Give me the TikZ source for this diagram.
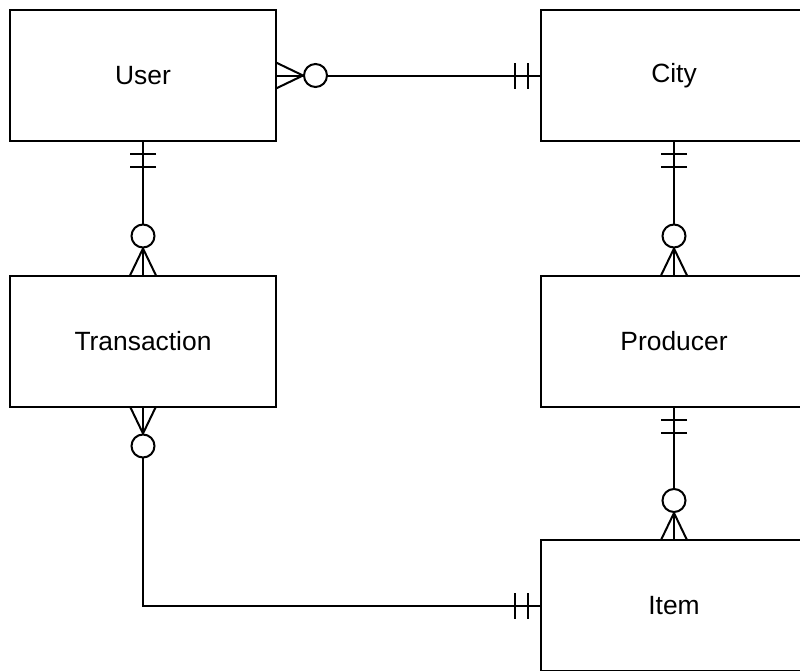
\documentclass[tikz,border=0pt]{standalone}
\usepackage{fontspec}
\setmainfont{Liberation Sans}
\usepackage{tikz}

\tikzset{
  entity/.style = {draw, minimum width = 266*0.75pt, minimum height = 131*0.75pt,
    outer sep = 0pt, font = \fontsize{19.8}{24}\selectfont},
  zeromany/.pic = {
    \draw (0,13) -- (27,0) -- (0,-13);
    \draw[fill = white] (39.5,0) circle (11.5);
  },
  oneonly/.pic = {
    \draw (13,-13) -- (13,13) (26,-13) -- (26,13);
  }
}

\begin{document}
\begin{tikzpicture}[x = 0.75pt, y = -0.75pt, line width = 1.5pt]
\useasboundingbox (0,0) rectangle (800,671);
\clip (0,0) rectangle (800,671);

\node[entity] (user) at (143,75.5) {User};
\node[entity] (city) at (674,75.5) {City};
\node[entity] (trans) at (143,341) {Transaction};
\node[entity] (prod) at (674,341) {Producer};
\node[entity] (item) at (674,605.5) {Item};

% relations
\draw (user) -- (city);
\draw (user) -- (trans);
\draw (city) -- (prod);
\draw (prod) -- (item);
\draw (trans.south) |- (item.west);

% cardinality marks
\pic at (user.east) {zeromany};
\pic[rotate = 180] at (city.west) {oneonly};
\pic[rotate = -90] at (user.south) {oneonly};
\pic[rotate = 90] at (trans.north) {zeromany};
\pic[rotate = -90] at (city.south) {oneonly};
\pic[rotate = 90] at (prod.north) {zeromany};
\pic[rotate = -90] at (prod.south) {oneonly};
\pic[rotate = 90] at (item.north) {zeromany};
\pic[rotate = -90] at (trans.south) {zeromany};
\pic[rotate = 180] at (item.west) {oneonly};
\end{tikzpicture}
\end{document}
